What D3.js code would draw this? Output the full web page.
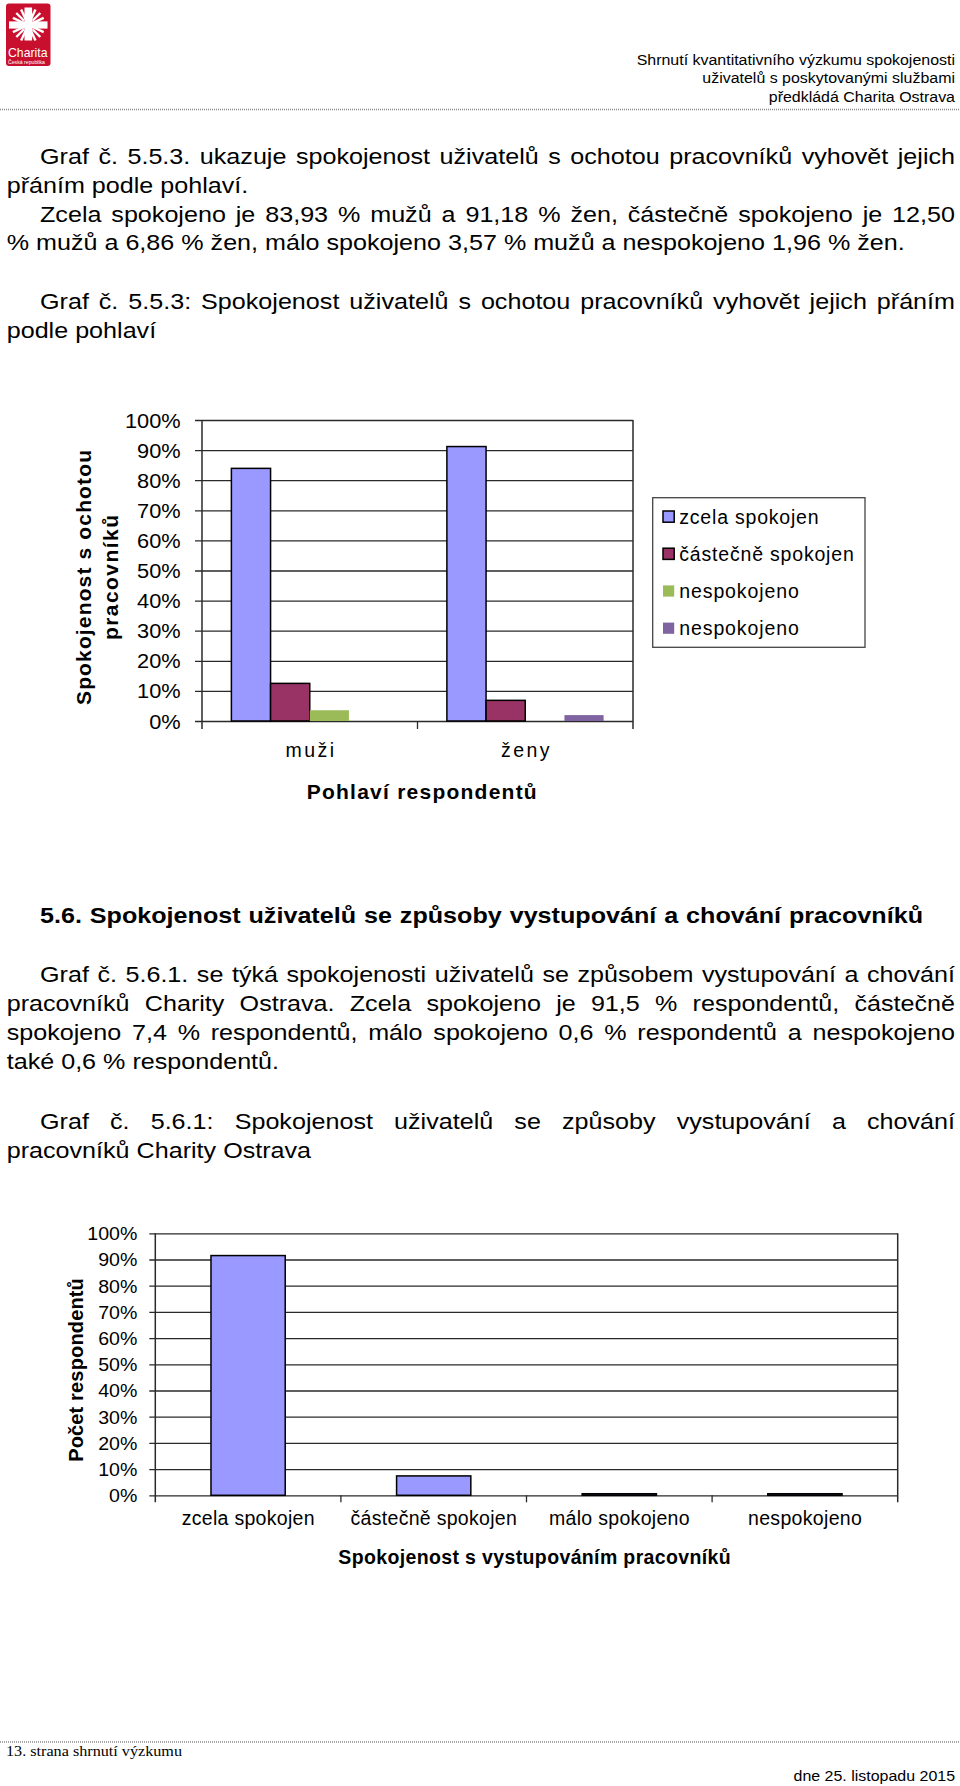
<!DOCTYPE html>
<html><head><meta charset="utf-8">
<script src="https://cdn.jsdelivr.net/npm/d3@7"></script>
<style>
html,body{margin:0;padding:0;background:#fff;}
svg{display:block;}
text{font-family:"Liberation Sans", Arial, sans-serif;fill:#000;}
</style></head><body>
<svg id="page" width="960" height="1786"></svg>
<script>
// ---------------- DATA ----------------
const genderCats = ["muži", "ženy"];
const seriesNames = ["zcela spokojen", "částečně spokojen", "nespokojeno", "nespokojeno"];
const zcelaSpokojen = [83.93, 91.18];
const castecneSpokojen = [12.50, 6.86];
const maloSpokojeno = [3.57, 0];
const nespokojeno = [0, 1.96];
const chart2Cats = ["zcela spokojen", "částečně spokojen", "málo spokojeno", "nespokojeno"];
const chart2Values = [91.5, 7.4, 0.6, 0.6];
const pctTicks = [0, 10, 20, 30, 40, 50, 60, 70, 80, 90, 100];
const pctTickLabels = ["0%", "10%", "20%", "30%", "40%", "50%", "60%", "70%", "80%", "90%", "100%"];

// ---------------- STYLE ----------------
const seriesColors = ["#9999ff", "#993366", "#9bbb59", "#8064a2"];
const seriesStroke = ["#000", "#000", "none", "none"];
const GRID = "#2a2a2a";
const SX = 1.117, FS = 22.5;

const svg = d3.select("#page");

function bodyLine(x, y, s, opt = {}) {
  const sx = opt.sx || SX;
  const g = svg.append("g").attr("transform", `translate(${x},${y}) scale(${sx},1)`);
  const t = g.append("text").attr("x", 0).attr("y", 0).text(s)
    .style("font-size", (opt.size || FS) + "px");
  if (opt.bold) t.style("font-weight", "bold");
  if (opt.anchor) t.attr("text-anchor", opt.anchor);
  if (opt.family) t.style("font-family", opt.family);
  if (opt.fill) t.style("fill", opt.fill);
  if (opt.justifyTo) {
    const w0 = t.node().getComputedTextLength();
    const n = (s.match(/ /g) || []).length;
    const target = (opt.justifyTo - x) / sx;
    if (n > 0) t.style("word-spacing", ((target - w0) / n) + "px");
  }
  return t;
}

// text with target width; anchor handled manually
function fitText(parent, x, y, s, o) {
  const t = parent.append("text").attr("y", y).text(s).style("font-size", o.size + "px");
  if (o.bold) t.style("font-weight", "bold");
  if (o.fill) t.style("fill", o.fill);
  if (o.family) t.style("font-family", o.family);
  const w0 = t.node().getComputedTextLength();
  const w = o.width || w0 * (o.sx || 1);
  t.attr("textLength", w).attr("lengthAdjust", o.adjust || "spacingAndGlyphs");
  let xs = x;
  if (o.anchor === "middle") xs = x - w / 2;
  if (o.anchor === "end") xs = x - w;
  t.attr("x", xs);
  return t;
}

// rotated (-90) text centred at cy, baseline at page x = bx
function vText(parent, bx, cy, s, o) {
  const t = parent.append("text").text(s).style("font-size", o.size + "px");
  if (o.bold) t.style("font-weight", "bold");
  const w0 = t.node().getComputedTextLength();
  const w = o.width || w0;
  t.attr("textLength", w).attr("lengthAdjust", o.adjust || "spacingAndGlyphs");
  const y = cy + w / 2;
  t.attr("x", bx).attr("y", y).attr("transform", `rotate(-90 ${bx} ${y})`);
  return t;
}

// ---------------- HEADER ----------------
const logo = svg.append("g");
logo.append("rect").attr("x", 6).attr("y", 3.5).attr("width", 44.5).attr("height", 62.5)
  .attr("rx", 3).attr("fill", "#c8102e");
const cx0 = 28.3, cy0 = 25;
[[-1, -1], [1, -1], [-1, 1], [1, 1]].forEach(([sx, sy]) => {
  [25, 45, 65].forEach(a => {
    const r = a * Math.PI / 180;
    logo.append("line")
      .attr("x1", cx0 + sx * 6 * Math.cos(r)).attr("y1", cy0 + sy * 6 * Math.sin(r))
      .attr("x2", cx0 + sx * 17 * Math.cos(r)).attr("y2", cy0 + sy * 17 * Math.sin(r))
      .attr("stroke", "#fff").attr("stroke-width", 2.4);
  });
});
logo.append("rect").attr("x", cx0 - 3.8).attr("y", 7.5).attr("width", 7.6).attr("height", 33).attr("fill", "#fff");
logo.append("rect").attr("x", 9).attr("y", cy0 - 3.6).attr("width", 38.5).attr("height", 7.2).attr("fill", "#fff");
fitText(logo, 8, 56.5, "Charita", {size: 13.5, width: 39.5, fill: "#fff"});
fitText(logo, 8, 63.6, "Česká republika", {size: 5, width: 37, fill: "#fff"});

bodyLine(955, 65, "Shrnutí kvantitativního výzkumu spokojenosti", {size: 14.3, anchor: "end"});
bodyLine(955, 83.3, "uživatelů s poskytovanými službami", {size: 14.3, anchor: "end"});
bodyLine(955, 101.7, "předkládá Charita Ostrava", {size: 14.3, anchor: "end"});
svg.append("line").attr("x1", 0).attr("x2", 960).attr("y1", 109.5).attr("y2", 109.5)
  .attr("stroke", "#8a8a8a").attr("stroke-width", 1.5).attr("stroke-dasharray", "1,1");

// ---------------- TEXT BLOCK 1 ----------------
bodyLine(40, 164, "Graf č. 5.5.3. ukazuje spokojenost uživatelů s ochotou pracovníků vyhovět jejich", {justifyTo: 955});
bodyLine(6.7, 192.7, "přáním podle pohlaví.");
bodyLine(40, 221.7, "Zcela spokojeno je 83,93 % mužů a 91,18 % žen, částečně spokojeno je 12,50", {justifyTo: 955});
bodyLine(6.7, 250.3, "% mužů a 6,86 % žen, málo spokojeno 3,57 % mužů a nespokojeno 1,96 % žen.");
bodyLine(40, 308.5, "Graf č. 5.5.3: Spokojenost uživatelů s ochotou pracovníků vyhovět jejich přáním", {justifyTo: 955});
bodyLine(6.7, 338.3, "podle pohlaví");

// ---------------- CHART 1 ----------------
(function () {
  const L = {x0: 202, x1: 633, y0: 721, y1: 420};
  const g = svg.append("g");
  const y = d3.scaleLinear().domain([0, 100]).range([L.y0, L.y1]);
  const x = d3.scaleBand().domain(genderCats).range([L.x0, L.x1]);
  const cw = x.bandwidth();
  const gapHalf = cw * 0.75 / 5.5;
  const xi = d3.scaleBand().domain(d3.range(seriesNames.length)).range([gapHalf, cw - gapHalf]);
  const seriesValues = [zcelaSpokojen, castecneSpokojen, maloSpokojeno, nespokojeno];

  // y axis with gridlines
  const ay = g.append("g").attr("transform", `translate(${L.x0},0)`)
    .call(d3.axisLeft(y).tickValues(pctTicks).tickFormat((d, i) => pctTickLabels[i]).tickSize(7).tickPadding(14));
  ay.attr("font-size", null).attr("font-family", null);
  ay.select(".domain").remove();
  ay.selectAll(".tick line").attr("x1", -7).attr("x2", L.x1 - L.x0).attr("stroke", GRID).attr("stroke-width", 1.3);
  ay.selectAll(".tick text").each(function () {
    const t = d3.select(this).style("font-size", "19.5px").attr("text-anchor", "start").attr("dy", "0.36em");
    const w = this.getComputedTextLength() * 1.117;
    t.attr("textLength", w).attr("lengthAdjust", "spacingAndGlyphs").attr("x", -21.3 - w);
  });

  // bars
  seriesValues.forEach((vals, si) => {
    g.append("g").selectAll("rect").data(genderCats.map((c, ci) => ({c, v: vals[ci]})).filter(d => d.v > 0))
      .join("rect")
      .attr("x", d => x(d.c) + xi(si))
      .attr("width", xi.bandwidth())
      .attr("y", d => y(d.v))
      .attr("height", d => y(0) - y(d.v))
      .attr("fill", seriesColors[si])
      .attr("stroke", seriesStroke[si])
      .attr("stroke-width", 1.5);
  });

  // frame: left axis, right border, category boundary ticks
  g.append("line").attr("x1", L.x0).attr("x2", L.x0).attr("y1", L.y1).attr("y2", L.y0 + 8)
    .attr("stroke", GRID).attr("stroke-width", 1.5);
  g.append("line").attr("x1", L.x1).attr("x2", L.x1).attr("y1", L.y1).attr("y2", L.y0 + 8)
    .attr("stroke", GRID).attr("stroke-width", 1.5);
  genderCats.slice(1).forEach(c => {
    g.append("line").attr("x1", x(c)).attr("x2", x(c)).attr("y1", L.y0).attr("y2", L.y0 + 8)
      .attr("stroke", GRID).attr("stroke-width", 1.3);
  });

  // x axis labels
  const ax = g.append("g").attr("transform", `translate(0,${L.y0})`)
    .call(d3.axisBottom(x).tickSize(0).tickPadding(22));
  ax.attr("font-size", null).attr("font-family", null);
  ax.select(".domain").remove();
  ax.selectAll(".tick text").each(function () {
    const t = d3.select(this).style("font-size", "19.5px").attr("text-anchor", "start");
    const w = this.getComputedTextLength() * 1.18;
    t.attr("textLength", w).attr("lengthAdjust", "spacing").attr("x", -w / 2);
  });

  // titles
  fitText(g, 421.7, 799, "Pohlaví respondentů", {size: 21, bold: true, width: 230, anchor: "middle", adjust: "spacing"});
  vText(g, 90.5, 577.5, "Spokojenost s ochotou", {size: 21, bold: true, width: 255, adjust: "spacing"});
  vText(g, 118, 577.5, "pracovníků", {size: 21, bold: true, width: 125, adjust: "spacing"});

  // legend
  const lg = g.append("g");
  lg.append("rect").attr("x", 652.7).attr("y", 497.7).attr("width", 212.3).attr("height", 149.6)
    .attr("fill", "#fff").attr("stroke", "#444").attr("stroke-width", 1.3);
  const ly = d3.scalePoint().domain(d3.range(seriesNames.length)).range([516.7, 628.3]);
  seriesNames.forEach((s, i) => {
    lg.append("rect").attr("x", 663).attr("y", ly(i) - 5.7).attr("width", 11.2).attr("height", 11.2)
      .attr("fill", seriesColors[i]).attr("stroke", seriesStroke[i]).attr("stroke-width", 1.5);
    fitText(lg, 679.3, ly(i) + 6.8, s, {size: 19.5, sx: 1.08, adjust: "spacing"});
  });
})();

// ---------------- TEXT BLOCK 2 ----------------
bodyLine(40, 923.3, "5.6. Spokojenost uživatelů se způsoby vystupování a chování pracovníků", {bold: true, justifyTo: 923});
bodyLine(40, 981.7, "Graf č. 5.6.1. se týká spokojenosti uživatelů se způsobem vystupování a chování", {justifyTo: 955});
bodyLine(6.7, 1010.7, "pracovníků Charity Ostrava. Zcela spokojeno je 91,5 % respondentů, částečně", {justifyTo: 955});
bodyLine(6.7, 1039.5, "spokojeno 7,4 % respondentů, málo spokojeno 0,6 % respondentů a nespokojeno", {justifyTo: 955});
bodyLine(6.7, 1069.3, "také 0,6 % respondentů.");
bodyLine(40, 1129.3, "Graf č. 5.6.1: Spokojenost uživatelů se způsoby vystupování a chování", {justifyTo: 955});
bodyLine(6.7, 1158.3, "pracovníků Charity Ostrava");

// ---------------- CHART 2 ----------------
(function () {
  const L = {x0: 155.3, x1: 897.7, y0: 1495.3, y1: 1233.3};
  const g = svg.append("g");
  const y = d3.scaleLinear().domain([0, 100]).range([L.y0, L.y1]);
  const slot = d3.scaleBand().domain(chart2Cats).range([L.x0, L.x1]);
  const xb = d3.scaleBand().domain(chart2Cats).range([L.x0, L.x1]).paddingInner(0.6).paddingOuter(0.3);

  const ay = g.append("g").attr("transform", `translate(${L.x0},0)`)
    .call(d3.axisLeft(y).tickValues(pctTicks).tickFormat((d, i) => pctTickLabels[i]).tickSize(6).tickPadding(12));
  ay.attr("font-size", null).attr("font-family", null);
  ay.select(".domain").remove();
  ay.selectAll(".tick line").attr("x1", -6).attr("x2", L.x1 - L.x0).attr("stroke", GRID).attr("stroke-width", 1.3);
  ay.selectAll(".tick text").each(function () {
    const t = d3.select(this).style("font-size", "18px").attr("text-anchor", "start").attr("dy", "0.36em");
    const w = this.getComputedTextLength() * 1.087;
    t.attr("textLength", w).attr("lengthAdjust", "spacingAndGlyphs").attr("x", -18 - w);
  });

  g.append("g").selectAll("rect").data(chart2Cats.map((c, i) => ({c, v: chart2Values[i]})))
    .join("rect")
    .attr("x", d => xb(d.c))
    .attr("width", xb.bandwidth())
    .attr("y", d => y(d.v))
    .attr("height", d => y(0) - y(d.v))
    .attr("fill", seriesColors[0])
    .attr("stroke", "#000")
    .attr("stroke-width", 1.5);

  g.append("line").attr("x1", L.x0).attr("x2", L.x0).attr("y1", L.y1).attr("y2", L.y0 + 7)
    .attr("stroke", GRID).attr("stroke-width", 1.5);
  g.append("line").attr("x1", L.x1).attr("x2", L.x1).attr("y1", L.y1).attr("y2", L.y0 + 7)
    .attr("stroke", GRID).attr("stroke-width", 1.5);
  chart2Cats.slice(1).forEach(c => {
    g.append("line").attr("x1", slot(c)).attr("x2", slot(c)).attr("y1", L.y0).attr("y2", L.y0 + 7)
      .attr("stroke", GRID).attr("stroke-width", 1.3);
  });

  const ax = g.append("g").attr("transform", `translate(0,${L.y0})`)
    .call(d3.axisBottom(slot).tickSize(0).tickPadding(16));
  ax.attr("font-size", null).attr("font-family", null);
  ax.select(".domain").remove();
  ax.selectAll(".tick text").each(function () {
    const t = d3.select(this).style("font-size", "19.5px").attr("text-anchor", "start");
    const w = this.getComputedTextLength() * 1.03;
    t.attr("textLength", w).attr("lengthAdjust", "spacing").attr("x", -w / 2);
  });

  fitText(g, 534.5, 1564.3, "Spokojenost s vystupováním pracovníků", {size: 19.5, bold: true, width: 392.4, anchor: "middle", adjust: "spacing"});
  vText(g, 83.5, 1370, "Počet respondentů", {size: 20, bold: true, width: 183.7, adjust: "spacing"});
})();

// ---------------- FOOTER ----------------
svg.append("line").attr("x1", 0).attr("x2", 960).attr("y1", 1742).attr("y2", 1742)
  .attr("stroke", "#8a8a8a").attr("stroke-width", 1.5).attr("stroke-dasharray", "1,1");
fitText(svg, 6, 1755.5, "13. strana shrnutí výzkumu", {size: 14.5, width: 176, family: "'Liberation Serif', 'Times New Roman', serif"});
bodyLine(955, 1780.5, "dne 25. listopadu 2015", {size: 14.3, anchor: "end"});
</script>
</body></html>
